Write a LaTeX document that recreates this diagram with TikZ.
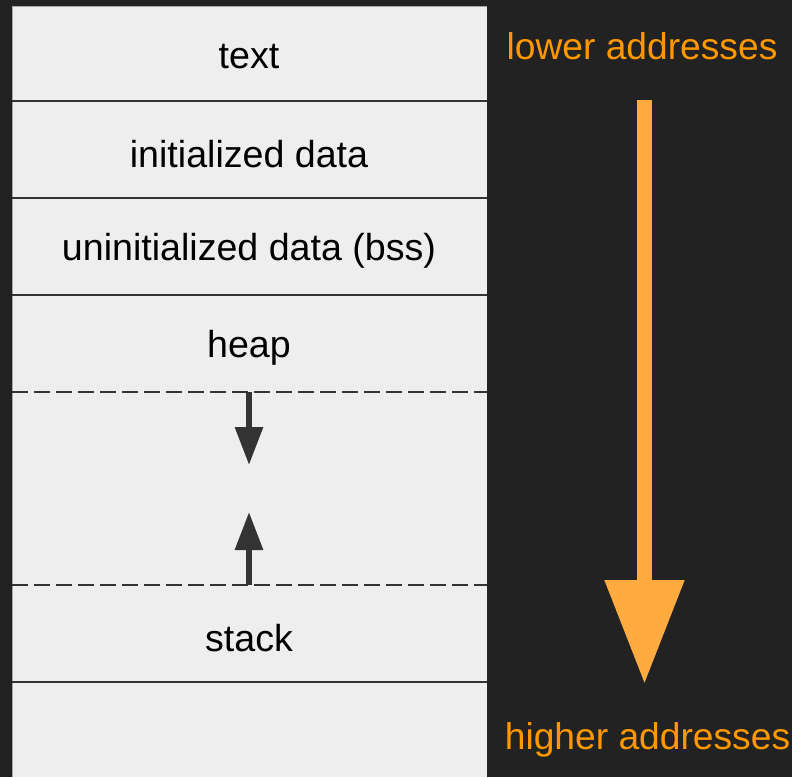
\documentclass[tikz,border=0pt]{standalone}
\usepackage{fontspec}
\setmainfont{Liberation Sans}
\usetikzlibrary{arrows.meta}
\definecolor{bg}{HTML}{222222}
\definecolor{panel}{HTML}{EEEEEE}
\definecolor{ink}{HTML}{333333}
\definecolor{orangetext}{HTML}{FF9800}
\definecolor{orangefill}{HTML}{FFAB40}
\begin{document}
\begin{tikzpicture}[x=1pt,y=-1pt,
  seg/.style={text=black,font=\fontsize{37.6}{42}\selectfont,anchor=center,inner sep=0pt},
  addr/.style={text=orangetext,font=\fontsize{37.2}{42}\selectfont,anchor=center,inner sep=0pt},
  solidsep/.style={draw=ink,line width=2pt},
  dashsep/.style={draw=ink,line width=2pt,dash pattern=on 16pt off 6pt},
  growarrow/.style={draw=ink,line width=6pt,-{Triangle[width=27pt,length=38pt]}},
  addrarrow/.style={draw=orangefill,line width=15pt,-{Triangle[width=76pt,length=104pt]}}]
\useasboundingbox (0,0) rectangle (792,777);
\fill[bg] (0,0) rectangle (792,777);
\fill[panel] (12,6) rectangle (487,777);
\draw[gray!70,line width=1pt] (12.5,777) -- (12.5,6.5) -- (487,6.5);
% separators
\draw[solidsep] (12,101) -- (487,101);
\draw[solidsep] (12,198) -- (487,198);
\draw[solidsep] (12,295) -- (487,295);
\draw[dashsep] (12,392) -- (487,392);
\draw[dashsep] (12,585) -- (487,585);
\draw[solidsep] (12,682) -- (487,682);
% labels
\node[seg] (text) at (249,57) {text};
\node[seg] (idata) at (249,154) {initialized data};
\node[seg] (bss) at (249,251) {uninitialized data (bss)};
\node[seg] (heap) at (249,348) {heap};
\node[seg] (stack) at (249,638) {stack};
% growth arrows
\coordinate (heapedge) at (249,392);
\coordinate (heaptip) at (249,465);
\coordinate (stackedge) at (249,585);
\coordinate (stacktip) at (249,512);
\draw[growarrow] (heapedge) -- (heaptip);
\draw[growarrow] (stackedge) -- (stacktip);
% address arrow
\node[addr] (lower) at (642,46) {lower addresses};
\node[addr] (higher) at (647.5,740) {higher addresses};
\coordinate (atop) at (644.5,100);
\coordinate (abot) at (644.5,684);
\draw[addrarrow] (atop) -- (abot);
\end{tikzpicture}
\end{document}
